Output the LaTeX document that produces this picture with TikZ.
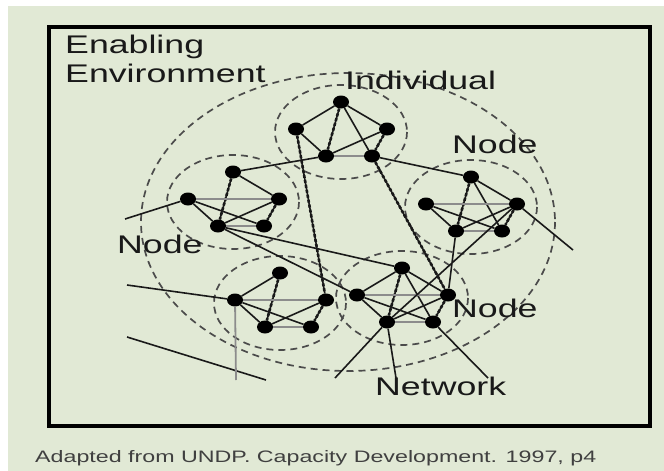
\documentclass[tikz,border=0pt]{standalone}
\usepackage{fontspec}
\setmainfont{Liberation Sans}[FakeStretch=1.4]
\usetikzlibrary{shapes.geometric}

\definecolor{paper}{RGB}{225,233,213}
\definecolor{ink}{RGB}{25,25,25}
\definecolor{ringgray}{RGB}{75,75,75}

\tikzset{
  dot/.style={ellipse, fill=black, minimum width=16pt, minimum height=13pt, inner sep=0pt},
  link/.style={draw=ink, line width=1.6pt},
  hlink/.style={link, postaction={draw=ink, line width=2.6pt, dash pattern=on 3pt off 2pt}},
  glink/.style={draw=black!45, line width=1.8pt},
  ring/.style={draw=ringgray, line width=1.7pt, dash pattern=on 7pt off 5pt},
  txt/.style={anchor=base west, inner sep=0pt, text=ink, font=\fontsize{25.5}{30}\selectfont},
}

\begin{document}
\begin{tikzpicture}[x=1pt, y=-1pt]
  \useasboundingbox (0,0) rectangle (664,471);
  \fill[white] (0,0) rectangle (664,471);
  \fill[paper] (8,6) rectangle (664,471);
  \draw[line width=4pt] (49,27) rectangle (650,426);

  % the network and its five groups
  \draw[ring] (348,222) ellipse [x radius=207, y radius=149];
  \foreach \grp/\x/\y in {i/341/102, l/233/172, r/471/177, s/280/273, c/402/268} {
    \draw[ring] (\x,\y+30) ellipse [x radius=66, y radius=47];
    \node[dot] (\grp t) at (\x,\y) {};
    \node[dot] (\grp l) at (\x-45,\y+27) {};
    \node[dot] (\grp r) at (\x+46,\y+27) {};
    \node[dot] (\grp bl) at (\x-15,\y+54) {};
    \node[dot] (\grp br) at (\x+31,\y+54) {};
    \draw[hlink] (\grp t) -- (\grp bl) (\grp r) -- (\grp br);
    \draw[link] (\grp l) -- (\grp bl) (\grp r) -- (\grp bl);
    \draw[glink] (\grp bl) -- (\grp br);
  }

  % links inside the groups
  \draw[link] (it) -- (il) (it) -- (ir) (it) -- (ibr);
  \draw[link] (lt) -- (lr) (ll) -- (lbr);
  \draw[link] (rt) -- (rr) (rt) -- (rbr) (rl) -- (rbr);
  \draw[link] (st) -- (sl) (sl) -- (sbr);
  \draw[link] (ct) -- (cl) (ct) -- (cr) (ct) -- (cbr) (cl) -- (cbr);
  \draw[glink] (ll) -- (lr) (rl) -- (rr) (sl) -- (sr) (cl) -- (cr);

  % links between the groups
  \draw[link] (ibl) -- (lt) (ibr) -- (rt) (lbl) -- (ct) (lbl) -- (cl) (rbl) -- (cr) (rr) -- (cbl);
  \draw[hlink] (il) -- (sr) (ibr) -- (cr);

  % loose ends
  \coordinate (e1) at (125,219);
  \coordinate (e2) at (573,250);
  \coordinate (e3) at (127,285);
  \coordinate (e4) at (236,380);
  \coordinate (e5) at (335,378);
  \coordinate (e6) at (396,378);
  \coordinate (e7) at (488,378);
  \coordinate (e8) at (127,337);
  \coordinate (e9) at (266,380);
  \draw[link] (ll) -- (e1) (rr) -- (e2) (sl) -- (e3) (cbl) -- (e5) (cbl) -- (e6) (cbr) -- (e7) (e8) -- (e9);
  \draw[glink] (sl) -- (e4);

  \node[txt] (env1) at (65,53) {Enabling};
  \node[txt] (env2) at (65,82) {Environment};
  \node[txt] (indiv) at (345,89) {Individual};
  \node[txt] (node1) at (452,153) {Node};
  \node[txt] (node2) at (117,253) {Node};
  \node[txt] (node3) at (452,317) {Node};
  \node[txt] (net) at (375,395) {Network};
  \node[txt, text=black!75, font=\fontsize{16.6}{20}\selectfont] (src) at (35,462)
    {Adapted from UNDP. Capacity Development. 1997, p4};
\end{tikzpicture}
\end{document}
